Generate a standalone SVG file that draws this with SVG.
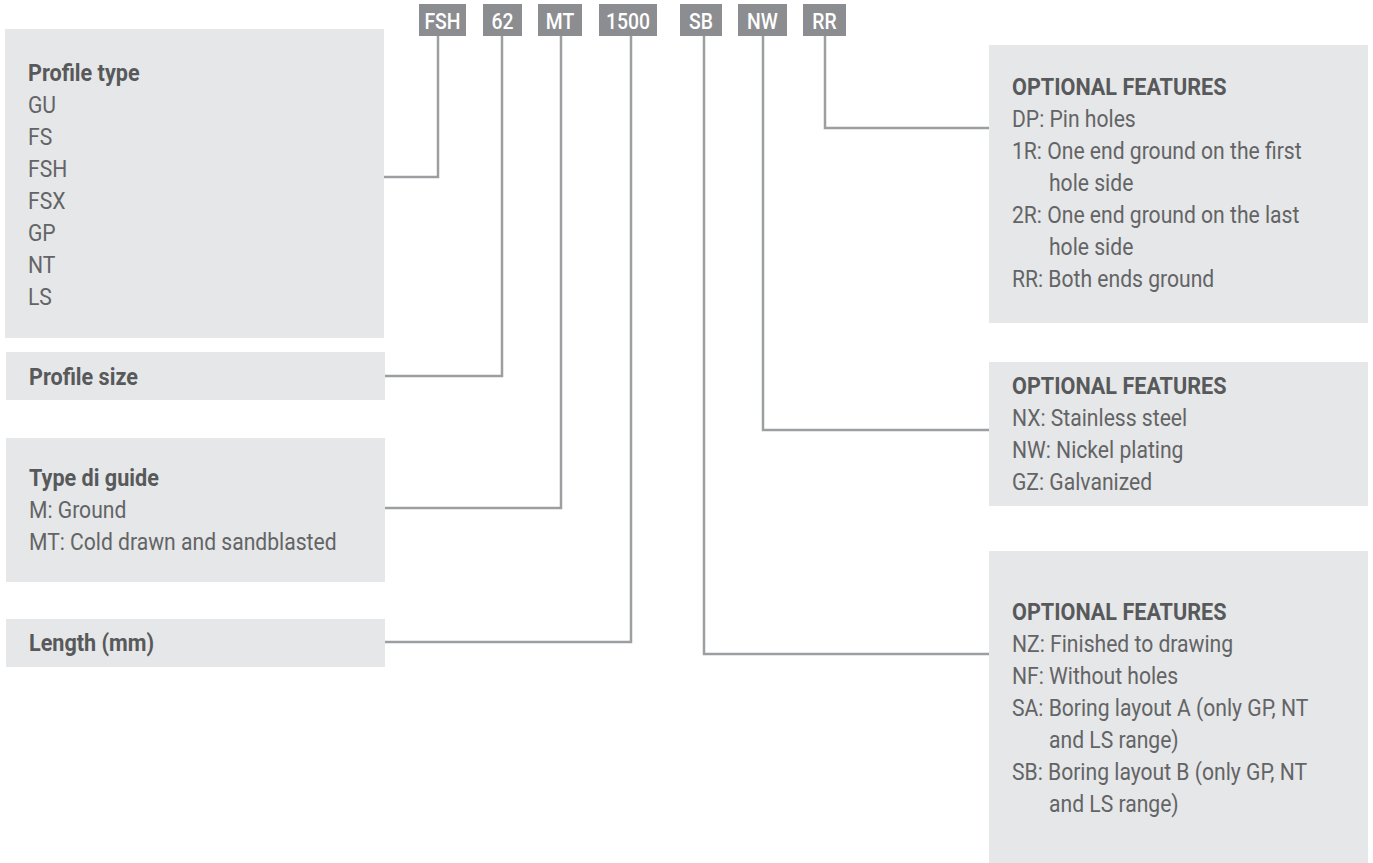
<svg xmlns="http://www.w3.org/2000/svg" width="1373" height="863" viewBox="0 0 1373 863">
<style>
.bg{fill:#e6e7e8}
.code{fill:#8c8d90}
.ct{font-family:Roboto,"Liberation Sans",sans-serif;font-size:22px;font-weight:500;fill:#ffffff;text-anchor:middle;transform-box:fill-box;transform-origin:center;transform:scaleX(0.88)}
.h{font-family:Roboto,"Liberation Sans",sans-serif;font-size:24px;font-weight:700;fill:#58595b;transform-box:fill-box;transform-origin:0 0;transform:scaleX(0.9)}
.t{font-family:Roboto,"Liberation Sans",sans-serif;font-size:24px;font-weight:400;fill:#636466;transform-box:fill-box;transform-origin:0 0;transform:scaleX(0.88)}
.ln{fill:none;stroke:#9d9ea1;stroke-width:2.5}
</style>
<rect width="1373" height="863" fill="#ffffff"/>
<g id="codes">
<g id="c-fsh"><rect class="code" x="419" y="4" width="47" height="32"/><text class="ct" x="442.5" y="29">FSH</text></g>
<g id="c-62"><rect class="code" x="483" y="4" width="39" height="32"/><text class="ct" x="502.5" y="29">62</text></g>
<g id="c-mt"><rect class="code" x="538" y="4" width="44" height="32"/><text class="ct" x="560" y="29">MT</text></g>
<g id="c-1500"><rect class="code" x="599" y="4" width="58" height="32"/><text class="ct" x="628" y="29">1500</text></g>
<g id="c-sb"><rect class="code" x="680" y="4" width="42" height="32"/><text class="ct" x="701" y="29">SB</text></g>
<g id="c-nw"><rect class="code" x="738" y="4" width="49" height="32"/><text class="ct" x="762.5" y="29">NW</text></g>
<g id="c-rr"><rect class="code" x="803" y="4" width="43" height="32"/><text class="ct" x="824.5" y="29">RR</text></g>
</g>
<g id="connectors">
<path class="ln" d="M384,177 H438 V36"/>
<path class="ln" d="M385,376 H502 V36"/>
<path class="ln" d="M385,508 H561 V36"/>
<path class="ln" d="M385,642 H631 V36"/>
<path class="ln" d="M989,654 H704 V36"/>
<path class="ln" d="M989,430 H763 V36"/>
<path class="ln" d="M989,128 H825 V36"/>
</g>
<g id="profile-type">
<rect class="bg" x="5" y="29" width="379" height="309"/>
<text class="h" x="28" y="81">Profile type</text>
<text class="t" x="28" y="113">GU</text>
<text class="t" x="28" y="145">FS</text>
<text class="t" x="28" y="177">FSH</text>
<text class="t" x="28" y="209">FSX</text>
<text class="t" x="28" y="241">GP</text>
<text class="t" x="28" y="273">NT</text>
<text class="t" x="28" y="305">LS</text>
</g>
<g id="profile-size">
<rect class="bg" x="6" y="352" width="379" height="48"/>
<text class="h" x="29" y="385">Profile size</text>
</g>
<g id="type-guide">
<rect class="bg" x="6" y="438" width="379" height="144"/>
<text class="h" x="29" y="486">Type di guide</text>
<text class="t" x="29" y="518">M: Ground</text>
<text class="t" x="29" y="550">MT: Cold drawn and sandblasted</text>
</g>
<g id="length">
<rect class="bg" x="6" y="619" width="379" height="48"/>
<text class="h" x="29" y="651">Length (mm)</text>
</g>
<g id="opt-rr">
<rect class="bg" x="989" y="45" width="379" height="278"/>
<text class="h" x="1012" y="95">OPTIONAL FEATURES</text>
<text class="t" x="1012" y="127">DP: Pin holes</text>
<text class="t" x="1012" y="159">1R: One end ground on the first</text>
<text class="t" x="1049" y="191">hole side</text>
<text class="t" x="1012" y="223">2R: One end ground on the last</text>
<text class="t" x="1049" y="255">hole side</text>
<text class="t" x="1012" y="287">RR: Both ends ground</text>
</g>
<g id="opt-nw">
<rect class="bg" x="989" y="362" width="379" height="144"/>
<text class="h" x="1012" y="394">OPTIONAL FEATURES</text>
<text class="t" x="1012" y="426">NX: Stainless steel</text>
<text class="t" x="1012" y="458">NW: Nickel plating</text>
<text class="t" x="1012" y="490">GZ: Galvanized</text>
</g>
<g id="opt-sb">
<rect class="bg" x="989" y="551" width="379" height="312"/>
<text class="h" x="1012" y="620">OPTIONAL FEATURES</text>
<text class="t" x="1012" y="652">NZ: Finished to drawing</text>
<text class="t" x="1012" y="684">NF: Without holes</text>
<text class="t" x="1012" y="716">SA: Boring layout A (only GP, NT</text>
<text class="t" x="1049" y="748">and LS range)</text>
<text class="t" x="1012" y="780">SB: Boring layout B (only GP, NT</text>
<text class="t" x="1049" y="812">and LS range)</text>
</g>
</svg>
